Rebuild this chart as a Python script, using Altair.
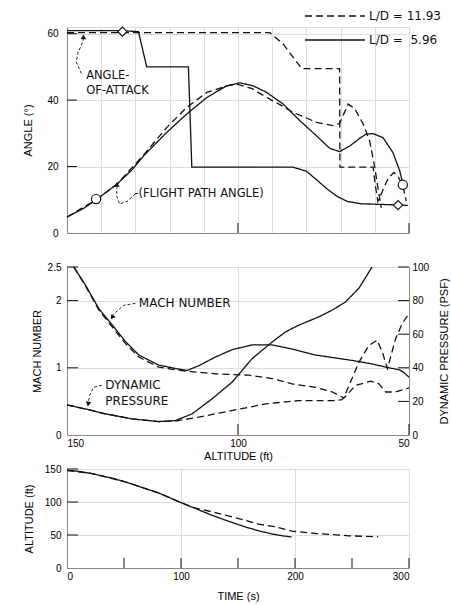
import altair as alt
import pandas as pd

FONT = "DejaVu Sans"
INK = "#111111"

# ---------------- legend series ----------------
SERIES = ["L/D = 11.93", "L/D = 5.96"]

# ---------------- top panel: angle (deg) vs altitude (ft) ----------------
AOA_SOLID_ALT = [150, 142, 134, 129.1, 126.7, 120, 114.5, 113.5, 100, 90, 83.9, 80, 77, 74, 71, 68, 64, 58, 52, 50.3]
AOA_SOLID_DEG = [60.9, 60.9, 60.9, 60.6, 50, 50, 50, 19.8, 19.8, 19.8, 19.8, 18.6, 16, 13.3, 11, 9.5, 8.8, 8.6, 8.4, 8.3]
AOA_DASH_ALT = [150, 130, 110, 90.7, 86.8, 83.9, 81.4, 75, 70.3, 70.2, 65, 60.5, 59.8, 59.1, 57.6, 56.1, 54.4, 53.2, 51.8, 50.8]
AOA_DASH_DEG = [60.3, 60.3, 60.3, 60.3, 56.9, 52.9, 49.5, 49.5, 49.5, 19.8, 19.8, 19.8, 14, 9.5, 13, 16.5, 18.2, 17, 14.2, 9.6]
FPA_SOLID_ALT = [150, 145, 141.2, 135.4, 131, 127.6, 124, 120.8, 115, 109.1, 103.3, 99.4, 95.6, 91.6, 86.8, 81.9, 77,
                 73.2, 70.3, 67.3, 64.4, 62.5, 60.5, 57.6, 54.7, 52.7, 52.0]
FPA_SOLID_DEG = [4.8, 7.5, 10.2, 14.7, 19, 23.2, 27, 30.3, 35.8, 40.8, 44.3, 45.2, 44.3, 42.3, 38.8, 33.8, 29.2,
                 25.5, 24.5, 26.2, 28.5, 29.8, 29.9, 28.7, 24.2, 18.7, 15.7]
FPA_DASH_ALT = [150, 141.2, 135.4, 127.6, 120.8, 115, 109.1, 103.3, 100.4, 96, 91.6, 87.5, 83.9, 77, 72.2, 70.3, 69,
                67.8, 65.9, 63.4, 61.5, 60, 59.1, 58.1]
FPA_DASH_DEG = [4.8, 10.2, 14.7, 23.5, 31.8, 37.8, 42.3, 44.3, 44.8, 43.5, 40.8, 38.5, 36.3, 33.3, 32.3, 33.0, 36,
                38.8, 37.5, 32.8, 27.7, 19.7, 13.7, 7.6]

MARK_ALT = [133.8, 53.2, 141.5, 51.8]
MARK_DEG = [60.6, 8.4, 10.2, 14.5]
MARK_SHAPE = ["diamond", "diamond", "circle", "circle"]

TOP_NOTE_TEXT = ["ANGLE-", "OF-ATTACK", "-(FLIGHT PATH ANGLE)"]
TOP_NOTE_ALT = [144.4, 144.4, 130.3]
TOP_NOTE_DEG = [47.2, 42.6, 11.7]

AOA_LEAD_ALT = [145.8, 147.3, 146.8, 145.8, 145.2]
AOA_LEAD_DEG = [48.0, 51.5, 54.3, 56.4, 58.3]
FPA_LEAD_ALT = [130.0, 132.3, 134.6, 135.5, 135.4]
FPA_LEAD_DEG = [11.8, 9.6, 8.7, 11.2, 13.8]
TOP_ARROW_ALT = [145.2, 135.4]
TOP_ARROW_DEG = [59.0, 14.6]
TOP_ARROW_ROT = [0, 0]

TOP_Y_TICKS = [20, 40, 60]
TOP_X_TICKS = [100, 50]

# ---------------- middle panel: Mach / dynamic pressure vs altitude ----------------
MACH_SOLID_ALT = [148, 144.6, 140.7, 136.8, 132.9, 129.0, 123.2, 118.3, 114.9, 111.5, 106.6, 101.7, 95.9, 90.0,
                  84.2, 77.3, 72, 66.7, 61, 56.8, 52.9, 51.5, 50]
MACH_SOLID_VAL = [2.5, 2.23, 1.88, 1.64, 1.39, 1.19, 1.04, 0.99, 0.96, 1.03, 1.16, 1.27, 1.34, 1.34,
                  1.28, 1.19, 1.15, 1.11, 1.06, 1.01, 0.97, 0.93, 0.86]
MACH_DASH_ALT = [148, 144.6, 140.7, 136.8, 132.9, 129.0, 123.2, 118.3, 114.9, 106.6, 96.8, 90, 84.2, 77.3, 72.4,
                 69.0, 65.6, 61.2, 58.8, 56.8, 53.9, 50.0]
MACH_DASH_VAL = [2.5, 2.22, 1.86, 1.61, 1.36, 1.16, 1.01, 0.97, 0.95, 0.91, 0.89, 0.84, 0.76, 0.71, 0.64,
                 0.55, 0.74, 0.80, 0.76, 0.64, 0.64, 0.70]
Q_SOLID_ALT = [150, 144.6, 138.8, 131.0, 123.2, 118.3, 113.4, 107.6, 101.7, 95.9, 90.0, 86.1, 82.2, 76.3, 72.4,
               68.5, 64.6, 60.8]
Q_SOLID_VAL = [17.9, 15.5, 12.6, 9.6, 8.0, 8.6, 12.6, 21.5, 31.5, 45.4, 55.4, 61.4, 65.4, 70.4, 74.4,
               79.3, 87.5, 100]
Q_DASH_ALT = [150, 144.6, 138.8, 131.0, 123.2, 118.3, 111.5, 101.7, 91.9, 82.2, 76.3, 72, 69.6, 69.0, 64.6, 61.7,
              59.3, 57.8, 56.3, 53.9, 52.0, 50.0]
Q_DASH_VAL = [17.9, 15.5, 12.6, 9.6, 8.0, 8.3, 10.6, 14.6, 18.5, 20.5, 20.5, 20.5, 21.0, 22.5, 43.5, 53.4,
              56.4, 49.4, 39.5, 57.4, 66.3, 72.3]

MID_NOTE_TEXT = ["MACH NUMBER", "DYNAMIC", "PRESSURE"]
MID_NOTE_ALT = [129.0, 138.8, 138.8]
MID_NOTE_VAL = [1.96, 0.74, 0.51]
MACH_LEAD_ALT = [130.0, 133.4, 135.7, 136.6]
MACH_LEAD_VAL = [1.96, 1.93, 1.83, 1.78]
Q_LEAD_ALT = [139.8, 142.2, 143.4, 143.7]
Q_LEAD_VAL = [0.74, 0.71, 0.59, 0.50]
MID_ARROW_ALT = [136.8, 143.8]
MID_ARROW_VAL = [1.75, 0.46]
MID_ARROW_ROT = [215, 190]

MID_LEFT_TICKS = [1, 2, 2.5]
MID_RIGHT_TICKS = [20, 40, 60, 80, 100]
MID_X_TICKS = [100, 50]

# ---------------- bottom panel: altitude vs time ----------------
T_SOLID = [0, 10, 22, 40, 51, 65, 80, 98, 110, 115, 127, 139, 156, 168, 180, 190, 197]
A_SOLID = [148, 146.5, 143, 136, 130.6, 122.5, 114, 100.5, 92, 88.5, 80, 72.5, 62.4, 56.4, 51.5, 48.5, 47]
T_DASH = [0, 22, 51, 80, 98, 112, 127, 139, 156, 168, 183, 197, 218, 232, 247, 273]
A_DASH = [148, 143, 130.6, 114, 100.5, 91, 85.2, 80, 72.4, 66.4, 62.4, 56.0, 52.3, 50.8, 48.8, 47.3]

BOT_X_TICKS = [50, 100, 150, 200, 250, 300]
BOT_Y_TICKS = [50, 100, 150]

# ---------------- sizes ----------------
W = 342
H_TOP, H_MID, H_BOT = 206, 168, 99


def curves(groups):
    rows = []
    for name, series, xs, ys in groups:
        for i, (x, y) in enumerate(zip(xs, ys)):
            rows.append({"curve": name, "series": series, "x": x, "y": y, "idx": i})
    return pd.DataFrame(rows)


def points(xs, ys, **cols):
    d = {"x": xs, "y": ys}
    d.update(cols)
    return pd.DataFrame(d)


dash_scale = alt.Scale(domain=SERIES, range=[[7, 4], [1, 0]])
alt_scale = alt.Scale(domain=[50, 150], reverse=True, nice=False, zero=False)
TW = "normal"

# ---------- TOP ----------
X_TOP = alt.X("x:Q", scale=alt_scale, axis=alt.Axis(labels=False, ticks=False, title=None))
Y_TOP = alt.Y("y:Q", scale=alt.Scale(domain=[0, 62], nice=False),
              axis=alt.Axis(values=[0, 20, 40, 60], ticks=False, labelPadding=9,
                            title="ANGLE (°)", titlePadding=13, titleFontWeight=TW))

df_top = curves([
    ("aoa_s", SERIES[1], AOA_SOLID_ALT, AOA_SOLID_DEG),
    ("aoa_d", SERIES[0], AOA_DASH_ALT, AOA_DASH_DEG),
    ("fpa_s", SERIES[1], FPA_SOLID_ALT, FPA_SOLID_DEG),
    ("fpa_d", SERIES[0], FPA_DASH_ALT, FPA_DASH_DEG),
])

legend = alt.Legend(orient="none", legendX=262, legendY=-17, title=None,
                    symbolType="M-6,0L6,0", symbolSize=100, symbolStrokeWidth=1.3,
                    symbolStrokeColor=INK, labelFont=FONT, labelFontSize=12, labelColor=INK,
                    labelOffset=28, rowPadding=12,
                    labelExpr="datum.label == 'L/D = 5.96' ? 'L/D =\u00a0\u00a05.96' : datum.label")

top_lines = alt.Chart(df_top).mark_line(color=INK, strokeWidth=1.3).encode(
    x=X_TOP, y=Y_TOP,
    strokeDash=alt.StrokeDash("series:N", scale=dash_scale, legend=legend),
    detail="curve:N", order="idx:Q")

top_marks = alt.Chart(points(MARK_ALT, MARK_DEG, shape=MARK_SHAPE)).mark_point(
    filled=True, fill="white", stroke=INK, strokeWidth=1.2, size=85, opacity=1).encode(
    x=X_TOP, y=Y_TOP, shape=alt.Shape("shape:N", scale=None))

top_text = alt.Chart(points(TOP_NOTE_ALT, TOP_NOTE_DEG, t=TOP_NOTE_TEXT)).mark_text(
    align="left", baseline="middle", font=FONT, fontSize=11.5, color=INK).encode(
    x=X_TOP, y=Y_TOP, text="t:N")

top_leads = alt.Chart(curves([
    ("l1", "a", AOA_LEAD_ALT, AOA_LEAD_DEG),
    ("l2", "a", FPA_LEAD_ALT, FPA_LEAD_DEG),
])).mark_line(color=INK, strokeWidth=0.9, strokeDash=[3, 2]).encode(
    x=X_TOP, y=Y_TOP, detail="curve:N", order="idx:Q")

top_arrows = alt.Chart(points(TOP_ARROW_ALT, TOP_ARROW_DEG, r=TOP_ARROW_ROT)).mark_point(
    shape="triangle-up", filled=True, size=30, color=INK, opacity=1).encode(
    x=X_TOP, y=Y_TOP, angle=alt.Angle("r:Q", scale=None))

top_yt = alt.Chart(pd.DataFrame({"y": TOP_Y_TICKS})).mark_rule(color=INK, strokeWidth=1).encode(
    y=Y_TOP, x=alt.value(0), x2=alt.value(10))
top_xt = alt.Chart(pd.DataFrame({"x": TOP_X_TICKS})).mark_rule(color=INK, strokeWidth=1).encode(
    x=X_TOP, y=alt.value(H_TOP), y2=alt.value(H_TOP - 10))

top = alt.layer(top_lines, top_marks, top_text, top_leads, top_arrows, top_yt, top_xt).properties(
    width=W, height=H_TOP)

# ---------- MIDDLE ----------
X_MID = alt.X("x:Q", scale=alt_scale,
              axis=alt.Axis(values=[150, 100, 50], ticks=False, labelPadding=3,
                            title="ALTITUDE (ft)", titlePadding=2, titleFontWeight=TW))
Y_MACH = alt.Y("y:Q", scale=alt.Scale(domain=[0, 2.5], nice=False),
               axis=alt.Axis(values=[0, 1, 2, 2.5], format="~g", ticks=False, labelPadding=6,
                             title="MACH NUMBER", titlePadding=5, titleFontWeight=TW))
Y_Q = alt.Y("y:Q", scale=alt.Scale(domain=[0, 100], nice=False),
            axis=alt.Axis(orient="right", values=[0, 20, 40, 60, 80, 100], ticks=False, labelPadding=3,
                          title="DYNAMIC PRESSURE (PSF)", titleAngle=-90, titlePadding=21,
                          titleFontWeight=TW))

mach_lines = alt.Chart(curves([
    ("m_s", SERIES[1], MACH_SOLID_ALT, MACH_SOLID_VAL),
    ("m_d", SERIES[0], MACH_DASH_ALT, MACH_DASH_VAL),
])).mark_line(color=INK, strokeWidth=1.3).encode(
    x=X_MID, y=Y_MACH, strokeDash=alt.StrokeDash("series:N", scale=dash_scale, legend=None),
    detail="curve:N", order="idx:Q")

mid_text = alt.Chart(points(MID_NOTE_ALT, MID_NOTE_VAL, t=MID_NOTE_TEXT)).mark_text(
    align="left", baseline="middle", font=FONT, fontSize=12, color=INK).encode(
    x=X_MID, y=Y_MACH, text="t:N")

mid_leads = alt.Chart(curves([
    ("l1", "a", MACH_LEAD_ALT, MACH_LEAD_VAL),
    ("l2", "a", Q_LEAD_ALT, Q_LEAD_VAL),
])).mark_line(color=INK, strokeWidth=0.9, strokeDash=[3, 2]).encode(
    x=X_MID, y=Y_MACH, detail="curve:N", order="idx:Q")

mid_arrows = alt.Chart(points(MID_ARROW_ALT, MID_ARROW_VAL, r=MID_ARROW_ROT)).mark_point(
    shape="triangle-up", filled=True, size=30, color=INK, opacity=1).encode(
    x=X_MID, y=Y_MACH, angle=alt.Angle("r:Q", scale=None))

mid_lt = alt.Chart(pd.DataFrame({"y": MID_LEFT_TICKS})).mark_rule(color=INK, strokeWidth=1).encode(
    y=Y_MACH, x=alt.value(0), x2=alt.value(11))
mid_xt = alt.Chart(pd.DataFrame({"x": MID_X_TICKS})).mark_rule(color=INK, strokeWidth=1).encode(
    x=X_MID, y=alt.value(H_MID), y2=alt.value(H_MID - 11))

q_lines = alt.Chart(curves([
    ("q_s", SERIES[1], Q_SOLID_ALT, Q_SOLID_VAL),
    ("q_d", SERIES[0], Q_DASH_ALT, Q_DASH_VAL),
])).mark_line(color=INK, strokeWidth=1.3).encode(
    x=X_MID, y=Y_Q, strokeDash=alt.StrokeDash("series:N", scale=dash_scale, legend=None),
    detail="curve:N", order="idx:Q")
mid_rt = alt.Chart(pd.DataFrame({"y": MID_RIGHT_TICKS})).mark_rule(color=INK, strokeWidth=1).encode(
    y=Y_Q, x=alt.value(W), x2=alt.value(W - 11))

mid = alt.layer(
    alt.layer(mach_lines, mid_text, mid_leads, mid_arrows, mid_lt, mid_xt),
    alt.layer(q_lines, mid_rt),
).resolve_scale(y="independent").properties(width=W, height=H_MID)

# ---------- BOTTOM ----------
X_T = alt.X("x:Q", scale=alt.Scale(domain=[0, 300], nice=False),
            axis=alt.Axis(values=[0, 100, 200, 300], ticks=False, labelPadding=3,
                          title="TIME (s)", titlePadding=9, titleFontWeight=TW))
Y_A = alt.Y("y:Q", scale=alt.Scale(domain=[0, 150], nice=False),
            axis=alt.Axis(values=[0, 50, 100, 150], ticks=False, labelPadding=6,
                          title="ALTITUDE (ft)", titlePadding=10, titleFontWeight=TW))

bot_lines = alt.Chart(curves([
    ("a_s", SERIES[1], T_SOLID, A_SOLID),
    ("a_d", SERIES[0], T_DASH, A_DASH),
])).mark_line(color=INK, strokeWidth=1.3).encode(
    x=X_T, y=Y_A, strokeDash=alt.StrokeDash("series:N", scale=dash_scale, legend=None),
    detail="curve:N", order="idx:Q")
bot_xt = alt.Chart(pd.DataFrame({"x": BOT_X_TICKS})).mark_rule(color=INK, strokeWidth=1).encode(
    x=X_T, y=alt.value(H_BOT), y2=alt.value(H_BOT - 10))
bot_yt = alt.Chart(pd.DataFrame({"y": BOT_Y_TICKS})).mark_rule(color=INK, strokeWidth=1).encode(
    y=Y_A, x=alt.value(0), x2=alt.value(11))

bot = alt.layer(bot_lines, bot_xt, bot_yt).properties(width=W, height=H_BOT)

chart = alt.vconcat(top, mid, bot, spacing=34, bounds="flush").resolve_scale(
    strokeDash="independent").resolve_legend(strokeDash="independent").properties(
    padding={"left": 22, "top": 9, "right": 0, "bottom": 0}
).configure_view(stroke=None).configure_axis(
    domainColor=INK, domainWidth=1.2, grid=False,
    labelFont=FONT, labelFontSize=11, labelColor=INK,
    titleFont=FONT, titleFontSize=12, titleFontWeight="normal", titleColor=INK,
).configure(background="white")

chart.save("out.html", embed_options={"renderer": "svg", "actions": False})
